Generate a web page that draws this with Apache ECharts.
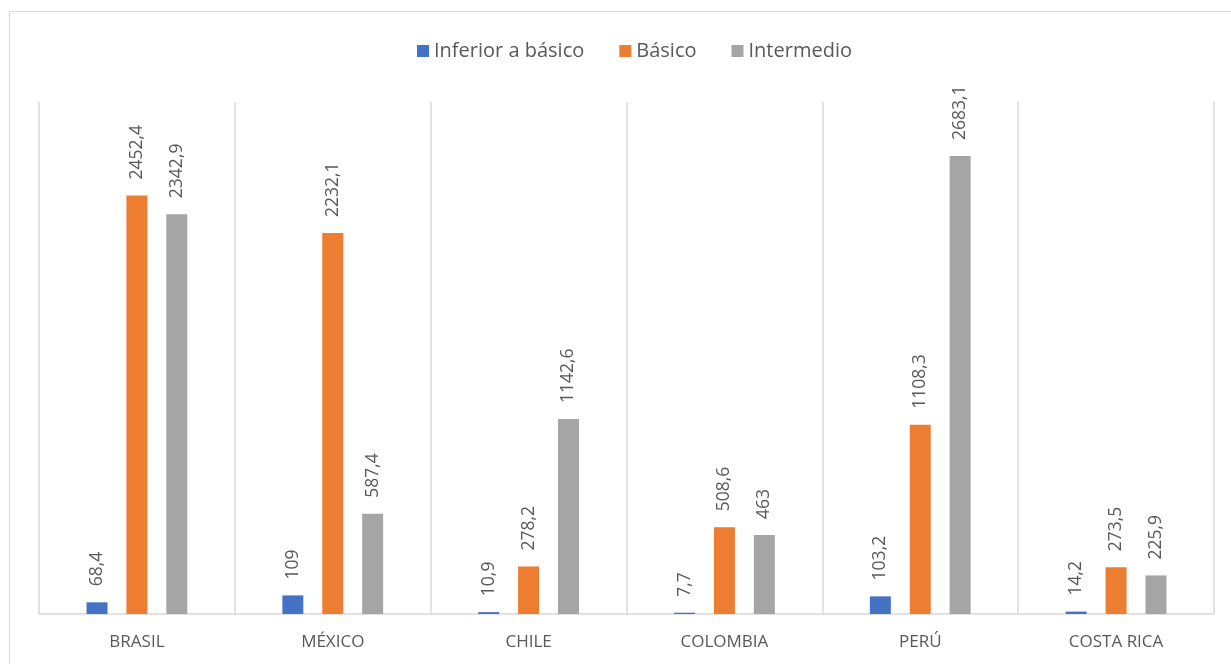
<!DOCTYPE html>
<html>
<head>
<meta charset="utf-8">
<script src="https://cdn.jsdelivr.net/npm/echarts@6/dist/echarts.min.js"></script>
<style>html,body{margin:0;padding:0;background:#fff;}#c{width:1231px;height:664px;}</style>
</head>
<body>
<div id="c"></div>
<script>
const categories = ['BRASIL', 'MÉXICO', 'CHILE', 'COLOMBIA', 'PERÚ', 'COSTA RICA'];
const inferiorBasico = [68.4, 109, 10.9, 7.7, 103.2, 14.2];
const basico = [2452.4, 2232.1, 278.2, 508.6, 1108.3, 273.5];
const intermedio = [2342.9, 587.4, 1142.6, 463, 2683.1, 225.9];
const seriesNames = ['Inferior a básico', 'Básico', 'Intermedio'];

const FONT = '"Open Sans", "Noto Sans", sans-serif';
const labelCfg = {
  show: true, position: 'top', rotate: 90, align: 'left', verticalAlign: 'middle',
  distance: 16, color: '#595959', fontSize: 17.5, fontFamily: FONT,
  formatter: p => String(p.value).replace('.', ',')
};
function mk(name, data, color) {
  return { name, type: 'bar', data, barWidth: 21, barGap: '90%',
    itemStyle: { color }, label: labelCfg };
}
const chart = echarts.init(document.getElementById('c'), null, { renderer: 'canvas' });
chart.setOption({
  backgroundColor: '#fff',
  animation: false,
  graphic: [{ type: 'rect', shape: { x: 9.5, y: 11.5, width: 1240, height: 680 },
    style: { fill: 'none', stroke: '#d9d9d9', lineWidth: 1 }, silent: true, z: -1 }],
  legend: {
    data: seriesNames, left: 412, top: 36, itemWidth: 12, itemHeight: 12, itemGap: 35,
    icon: 'rect', textStyle: { color: '#595959', fontSize: 20, fontFamily: FONT }
  },
  grid: { left: 39, right: 17, top: 102, bottom: 50 },
  xAxis: {
    type: 'category', data: categories,
    axisLine: { lineStyle: { color: '#d9d9d9', width: 1.5 } },
    axisTick: { show: false },
    splitLine: { show: true, lineStyle: { color: '#d9d9d9', width: 1.5 } },
    axisLabel: { color: '#595959', fontSize: 17, fontFamily: FONT, margin: 20 }
  },
  yAxis: { type: 'value', min: 0, max: 3000, interval: 500, show: false, splitLine: { show: false } },
  series: [
    mk(seriesNames[0], inferiorBasico, '#4472C4'),
    mk(seriesNames[1], basico, '#ED7D31'),
    mk(seriesNames[2], intermedio, '#A5A5A5')
  ]
});
</script>
</body>
</html>
